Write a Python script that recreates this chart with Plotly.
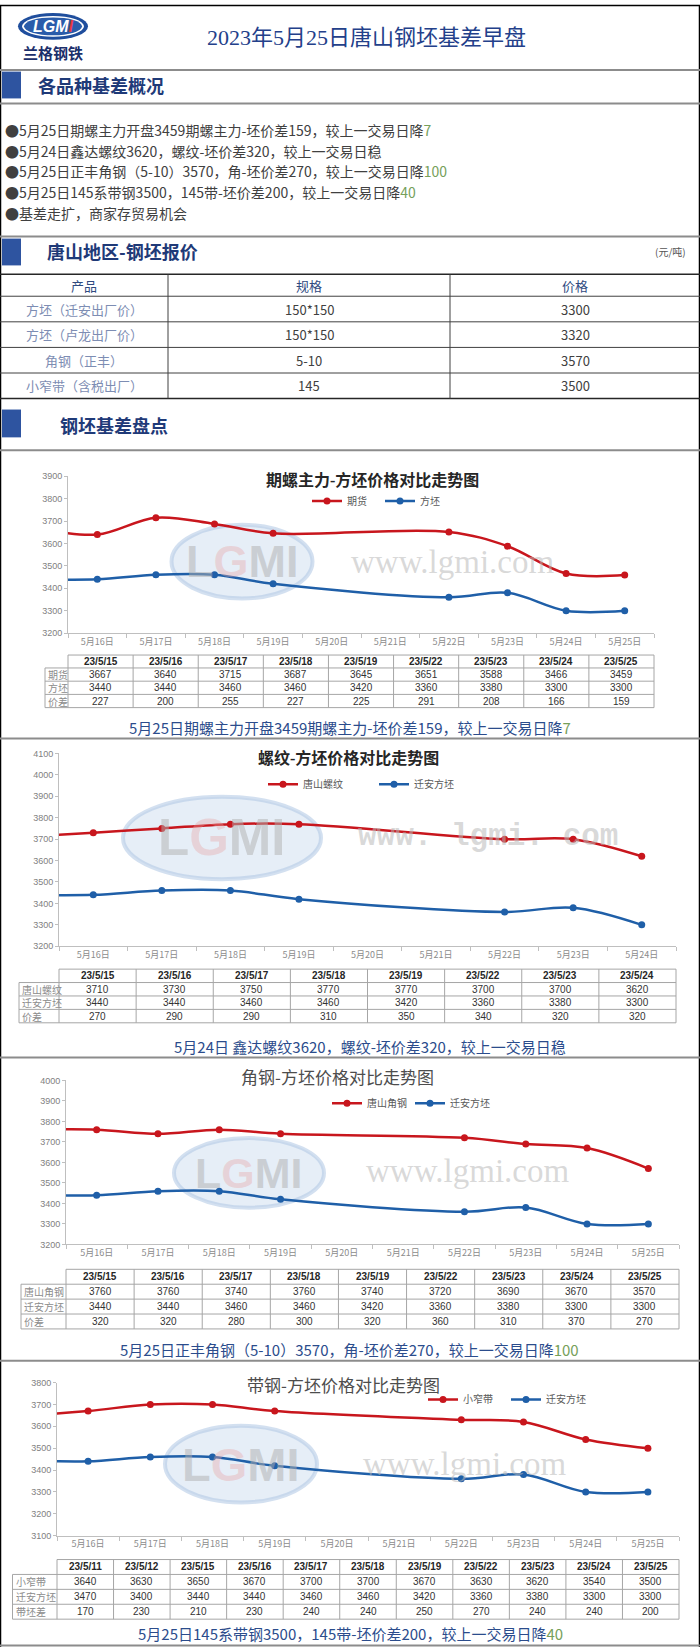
import plotly.graph_objects as go
import pandas as pd

W, H = 700, 1652

# ---------------- data ----------------
report_title = "2023年5月25日唐山钢坯基差早盘"
brand_cn = "兰格钢铁"
brand_en = "LGMI"
watermark_url = "www.lgmi.com"

section_titles = ["各品种基差概况", "唐山地区-钢坯报价", "钢坯基差盘点"]
price_unit = "(元/吨)"

summary_main = [
    "●5月25日期螺主力开盘3459期螺主力-坯价差159，较上一交易日降",
    "●5月24日鑫达螺纹3620，螺纹-坯价差320，较上一交易日稳",
    "●5月25日正丰角钢（5-10）3570，角-坯价差270，较上一交易日降",
    "●5月25日145系带钢3500，145带-坯价差200，较上一交易日降",
    "●基差走扩，商家存贸易机会",
]
summary_change = ["7", "", "100", "40", ""]

price_headers = ["产品", "规格", "价格"]
price_products = ["方坯（迁安出厂价）", "方坯（卢龙出厂价）", "角钢（正丰）", "小窄带（含税出厂）"]
price_specs = ["150*150", "150*150", "5-10", "145"]
price_values = [3300, 3320, 3570, 3500]

# chart 1
c1_title = "期螺主力-方坯价格对比走势图"
c1_rows = ["期货", "方坯", "价差"]
c1_dates = ["23/5/15", "23/5/16", "23/5/17", "23/5/18", "23/5/19", "23/5/22", "23/5/23", "23/5/24", "23/5/25"]
c1_main = [3667, 3640, 3715, 3687, 3645, 3651, 3588, 3466, 3459]
c1_billet = [3440, 3440, 3460, 3460, 3420, 3360, 3380, 3300, 3300]
c1_spread = [227, 200, 255, 227, 225, 291, 208, 166, 159]
c1_xticks = ["5月16日", "5月17日", "5月18日", "5月19日", "5月20日", "5月21日", "5月22日", "5月23日", "5月24日", "5月25日"]
c1_caption = "5月25日期螺主力开盘3459期螺主力-坯价差159，较上一交易日降"
c1_change = "7"

# chart 2
c2_title = "螺纹-方坯价格对比走势图"
c2_rows = ["唐山螺纹", "迁安方坯", "价差"]
c2_dates = ["23/5/15", "23/5/16", "23/5/17", "23/5/18", "23/5/19", "23/5/22", "23/5/23", "23/5/24"]
c2_main = [3710, 3730, 3750, 3770, 3770, 3700, 3700, 3620]
c2_billet = [3440, 3440, 3460, 3460, 3420, 3360, 3380, 3300]
c2_spread = [270, 290, 290, 310, 350, 340, 320, 320]
c2_xticks = ["5月16日", "5月17日", "5月18日", "5月19日", "5月20日", "5月21日", "5月22日", "5月23日", "5月24日"]
c2_caption = "5月24日 鑫达螺纹3620，螺纹-坯价差320，较上一交易日稳"
c2_change = ""

# chart 3
c3_title = "角钢-方坯价格对比走势图"
c3_rows = ["唐山角钢", "迁安方坯", "价差"]
c3_dates = ["23/5/15", "23/5/16", "23/5/17", "23/5/18", "23/5/19", "23/5/22", "23/5/23", "23/5/24", "23/5/25"]
c3_main = [3760, 3760, 3740, 3760, 3740, 3720, 3690, 3670, 3570]
c3_billet = [3440, 3440, 3460, 3460, 3420, 3360, 3380, 3300, 3300]
c3_spread = [320, 320, 280, 300, 320, 360, 310, 370, 270]
c3_xticks = ["5月16日", "5月17日", "5月18日", "5月19日", "5月20日", "5月21日", "5月22日", "5月23日", "5月24日", "5月25日"]
c3_caption = "5月25日正丰角钢（5-10）3570，角-坯价差270，较上一交易日降"
c3_change = "100"

# chart 4
c4_title = "带钢-方坯价格对比走势图"
c4_rows = ["小窄带", "迁安方坯", "带坯差"]
c4_dates = ["23/5/11", "23/5/12", "23/5/15", "23/5/16", "23/5/17", "23/5/18", "23/5/19", "23/5/22", "23/5/23", "23/5/24", "23/5/25"]
c4_main = [3640, 3630, 3650, 3670, 3700, 3700, 3670, 3630, 3620, 3540, 3500]
c4_billet = [3470, 3400, 3440, 3440, 3460, 3460, 3420, 3360, 3380, 3300, 3300]
c4_spread = [170, 230, 210, 230, 240, 240, 250, 270, 240, 240, 200]
c4_xticks = ["5月16日", "5月17日", "5月18日", "5月19日", "5月20日", "5月21日", "5月22日", "5月23日", "5月24日", "5月25日"]
c4_caption = "5月25日145系带钢3500，145带-坯价差200，较上一交易日降"
c4_change = "40"

# ---------------- styles ----------------
SANS = "Noto Sans CJK SC"
SERIF = "Liberation Serif, Noto Sans CJK SC"
RED = "#C8161D"
BLUE = "#1F5FA8"
NAVY = "#23408A"
GREEN = "#76A05A"
SEP = "#8C8C8C"
TBL = "#A6A6A6"

charts = [
    dict(title=c1_title, rows=c1_rows, dates=c1_dates, main=c1_main, billet=c1_billet, spread=c1_spread,
         xticks=c1_xticks, caption=c1_caption, change=c1_change,
         box=(68, 654, 474, 632), yr=(3200, 3900),
         title_at=(373, 478), tfont=dict(size=16, family=SERIF, color="#262626", weight="bold"),
         legend_at=(319, 499), legend_step=73, lfont=10,
         table=(654, 13, 13.3, 45), caption_at=(350, 727),
         wm_oval=(242, 560, 141, 74), wm_text=(453, 560, 33, "Liberation Serif", "normal")),
    dict(title=c2_title, rows=c2_rows, dates=c2_dates, main=c2_main, billet=c2_billet, spread=c2_spread,
         xticks=c2_xticks, caption=c2_caption, change=c2_change,
         box=(59, 676, 753, 947), yr=(3200, 4100),
         title_at=(348, 758), tfont=dict(size=16, family=SERIF, color="#262626", weight="bold"),
         legend_at=(275, 784), legend_step=111, lfont=10,
         table=(970, 13.5, 13.5, 19), caption_at=(370, 1048),
         wm_oval=(222, 838, 198, 83), wm_text=(488, 837, 31, "Liberation Mono", "bold")),
    dict(title=c3_title, rows=c3_rows, dates=c3_dates, main=c3_main, billet=c3_billet, spread=c3_spread,
         xticks=c3_xticks, caption=c3_caption, change=c3_change,
         box=(66, 679, 1082, 1247), yr=(3200, 4000),
         title_at=(337, 1078), tfont=dict(size=17, family=SANS, color="#4D4D4D"),
         legend_at=(339, 1105), legend_step=83, lfont=10,
         table=(1272, 15, 15, 21), caption_at=(349, 1353),
         wm_oval=(249, 1175, 150, 70), wm_text=(468, 1173, 33, "Liberation Serif", "normal")),
    dict(title=c4_title, rows=c4_rows, dates=c4_dates, main=c4_main, billet=c4_billet, spread=c4_spread,
         xticks=c4_xticks, caption=c4_caption, change=c4_change,
         box=(57, 679, 1386, 1540), yr=(3100, 3800),
         title_at=(343, 1388), tfont=dict(size=17, family=SANS, color="#4D4D4D"),
         legend_at=(435, 1403), legend_step=83, lfont=10,
         table=(1564, 15, 15, 12.5), caption_at=(350, 1638),
         wm_oval=(241, 1468, 152, 77), wm_text=(465, 1468, 33, "Liberation Serif", "normal")),
]


def X(x):
    return x / W


def Y(y):
    return 1 - y / H


shapes = []
annotations = []


def line(x0, y0, x1, y1, color, width=1, layer="above"):
    shapes.append(dict(type="line", xref="paper", yref="paper", x0=X(x0), x1=X(x1), y0=Y(y0), y1=Y(y1),
                       line=dict(color=color, width=width), layer=layer))


def rect(x0, y0, x1, y1, fill, lc=None, lw=0, kind="rect", layer="above"):
    shapes.append(dict(type=kind, xref="paper", yref="paper", x0=X(x0), x1=X(x1), y0=Y(y0), y1=Y(y1),
                       fillcolor=fill, line=dict(color=lc or fill, width=lw), layer=layer))


def text(x, y, s, size, color, family=SANS, anchor="center", weight="normal", opacity=1):
    annotations.append(dict(xref="paper", yref="paper", x=X(x), y=Y(y), text=s, showarrow=False,
                            xanchor=anchor, yanchor="middle", opacity=opacity,
                            font=dict(size=size, color=color, family=family, weight=weight)))


# ---------------- page frame ----------------
line(0.5, 0, 0.5, H, "#000000", 1.5)
line(699.5, 0, 699.5, H, "#000000", 1.5)
line(0, 0.5, W, 0.5, "#000000", 1.5)

# header logo
rect(18, 8, 88, 35, "#1F4E9D", "#FFFFFF", 0, kind="circle")
rect(22, 11, 84, 32, "#FFFFFF", "#FFFFFF", 0, kind="circle")
rect(24, 12.5, 82, 30.5, "#2A5CAA", "#2A5CAA", 0, kind="circle")
text(53, 21.5, "<i>" + brand_en[:3] + "<span style='color:#E8383D'>" + brand_en[3] + "</span></i>", 16, "#FFFFFF",
     family="Liberation Sans", weight="bold")
text(53, 48, brand_cn, 15, "#1B2F6B", weight="bold")
text(367, 33, report_title, 22, NAVY, family=SERIF)

# separators
for yy in [65.5, 99, 233, 448, 738, 1059, 1364, 1650.5]:
    line(0, yy, W, yy, SEP, 2)

# section headers
sec_pos = [(67, 94, 36, 80), (235, 262, 45, 248), (407, 435, 58, 423)]
for (y0, y1, tx, ty), st in zip(sec_pos, section_titles):
    rect(2, y0, 21, y1, "#2E54A0")
    text(tx, ty, st, 18, "#1F3A78", anchor="left", weight="bold")
text(670, 248, price_unit, 10, "#555555")

# summary bullets
for i, (s, c) in enumerate(zip(summary_main, summary_change)):
    txt = s + ("<span style='color:%s'>%s</span>" % (GREEN, c) if c else "")
    text(3, 126 + i * 20.7, txt, 14, "#404040", anchor="left")

# price table
p_top, p_hh, p_rh = 271, 22, 25.75
p_cols = [0, 168, 450, 700]
p_bottom = p_top + p_hh + p_rh * len(price_products)
line(0, p_top, W, p_top, "#262626", 1.5)
line(0, p_top + p_hh, W, p_top + p_hh, "#404040", 1)
for r in range(1, len(price_products)):
    yy = p_top + p_hh + r * p_rh
    line(0, yy, W, yy, "#404040", 1)
line(0, p_bottom, W, p_bottom, "#262626", 1.5)
for cx in p_cols[1:-1]:
    line(cx, p_top, cx, p_bottom, "#404040", 1)
for j, hname in enumerate(price_headers):
    text((p_cols[j] + p_cols[j + 1]) / 2, p_top + p_hh / 2, hname, 13, "#2F4A7F")
for r, (pp, sp, pv) in enumerate(zip(price_products, price_specs, price_values)):
    yc = p_top + p_hh + (r + 0.5) * p_rh
    text((p_cols[0] + p_cols[1]) / 2, yc, pp, 13, "#7D8DB3")
    text((p_cols[1] + p_cols[2]) / 2, yc, sp, 13, "#404040")
    text((p_cols[2] + p_cols[3]) / 2, yc, str(pv), 13, "#404040")

# ---------------- charts ----------------
fig = go.Figure()
layout_axes = {}
legends = {}
half = pd.Timedelta(hours=12)
fmt = "%Y-%m-%d %H:%M"

for i, cd in enumerate(charts, start=1):
    sfx = "" if i == 1 else str(i)
    leg = "legend" + sfx
    dates = pd.to_datetime(cd["dates"], format="%y/%m/%d")
    tick_dates = pd.to_datetime(["2023-" + t.replace("月", "-").replace("日", "") for t in cd["xticks"]])
    bx0, bx1, by0, by1 = cd["box"]

    # watermark
    ox, oy, ow, oh = cd["wm_oval"]
    rect(ox - ow / 2, oy - oh / 2, ox + ow / 2, oy + oh / 2, "rgba(205,222,240,0.5)",
         "rgba(175,198,228,0.55)", 4, kind="circle", layer="below")
    text(ox, oy, "L<span style='color:rgba(232,165,165,0.75)'>G</span>MI", int(oh * 0.62),
         "rgba(175,175,175,0.5)", family="Liberation Sans", weight="bold")
    wx, wy, wsz, wfam, wwt = cd["wm_text"]
    wtxt = watermark_url if wfam != "Liberation Mono" else watermark_url.replace(".", ". ")
    text(wx, wy, wtxt, wsz, "rgba(185,185,185,0.55)", family=wfam, weight=wwt)

    for vals, name, color in [(cd["main"], cd["rows"][0], RED), (cd["billet"], cd["rows"][1], BLUE)]:
        fig.add_trace(go.Scatter(
            x=dates, y=vals, name=name, mode="lines+markers",
            line=dict(color=color, width=2.5, shape="spline", smoothing=1.0),
            marker=dict(size=7, color=color),
            xaxis="x" + sfx, yaxis="y" + sfx, legend=leg, cliponaxis=True, hoverinfo="skip"))

    bounds = [d - half for d in tick_dates] + [tick_dates[-1] + half]
    layout_axes["xaxis" + sfx] = dict(
        domain=[X(bx0), X(bx1)], anchor="y" + sfx, type="date",
        range=[(tick_dates[0] - half).strftime(fmt), (tick_dates[-1] + half).strftime(fmt)],
        tickmode="array", tickvals=[d.strftime(fmt) for d in tick_dates], ticktext=cd["xticks"],
        ticks="", showline=True, linecolor="#BFBFBF", linewidth=1, showgrid=False, zeroline=False,
        tickfont=dict(size=9, color="#8C8C8C", family=SANS),
        minor=dict(tickmode="array", tickvals=[d.strftime(fmt) for d in bounds], ticks="outside",
                   ticklen=4, tickcolor="#BFBFBF", showgrid=False),
        fixedrange=True)
    layout_axes["yaxis" + sfx] = dict(
        domain=[Y(by1), Y(by0)], anchor="x" + sfx, range=list(cd["yr"]), dtick=100, tick0=cd["yr"][0],
        showline=True, linecolor="#BFBFBF", linewidth=1, ticks="outside", ticklen=3, tickcolor="#BFBFBF",
        showgrid=False, zeroline=False, tickfont=dict(size=9, color="#7F7F7F", family="Liberation Sans"),
        fixedrange=True)

    lx, ly = cd["legend_at"]
    legends[leg] = dict(x=X(lx - 12), y=Y(ly), xanchor="left", yanchor="middle", orientation="h",
                        font=dict(size=cd["lfont"], color="#595959", family=SANS),
                        bgcolor="rgba(0,0,0,0)", itemwidth=30, entrywidthmode="pixels",
                        entrywidth=cd["legend_step"] - 45, tracegroupgap=0, itemclick=False)

    # title
    tx, ty = cd["title_at"]
    annotations.append(dict(xref="paper", yref="paper", x=X(tx), y=Y(ty), text=cd["title"], showarrow=False,
                            xanchor="center", yanchor="middle", font=cd["tfont"]))

    # data table
    top, hh, rh, labx = cd["table"]
    n = len(cd["dates"])
    cw = (bx1 - bx0) / n
    bottom = top + hh + 3 * rh
    line(bx0, top, bx1, top, TBL, 1)
    for r in range(1, 4):
        line(labx, top + hh + (r - 1) * rh, bx1, top + hh + (r - 1) * rh, TBL, 1)
    line(labx, bottom, bx1, bottom, TBL, 1)
    line(labx, top + hh, labx, bottom, TBL, 1)
    for j in range(n + 1):
        line(bx0 + j * cw, top, bx0 + j * cw, bottom, TBL, 1)
    for j, dlab in enumerate(cd["dates"]):
        text(bx0 + (j + 0.5) * cw, top + hh / 2, dlab, 10, "#262626", family="Liberation Sans", weight="bold")
    for r, series in enumerate([cd["main"], cd["billet"], cd["spread"]]):
        yc = top + hh + (r + 0.5) * rh
        text(labx + 1, yc, cd["rows"][r], 10, "#8C8C8C", anchor="left")
        for j, v in enumerate(series):
            text(bx0 + (j + 0.5) * cw, yc, str(v), 10, "#333333", family="Liberation Sans")

    # caption
    cx, cy = cd["caption_at"]
    cap = cd["caption"] + ("<span style='color:%s'>%s</span>" % (GREEN, cd["change"]) if cd["change"] else "")
    text(cx, cy, cap, 15, "#2B4C8C")

fig.update_layout(
    width=W, height=H, margin=dict(l=0, r=0, t=0, b=0),
    paper_bgcolor="#FFFFFF", plot_bgcolor="rgba(0,0,0,0)",
    shapes=shapes, annotations=annotations, showlegend=True,
    **layout_axes, **legends)

fig.write_html("out.html", config={"displayModeBar": False},
               post_script="document.body.style.margin='0';document.body.style.padding='0';")
